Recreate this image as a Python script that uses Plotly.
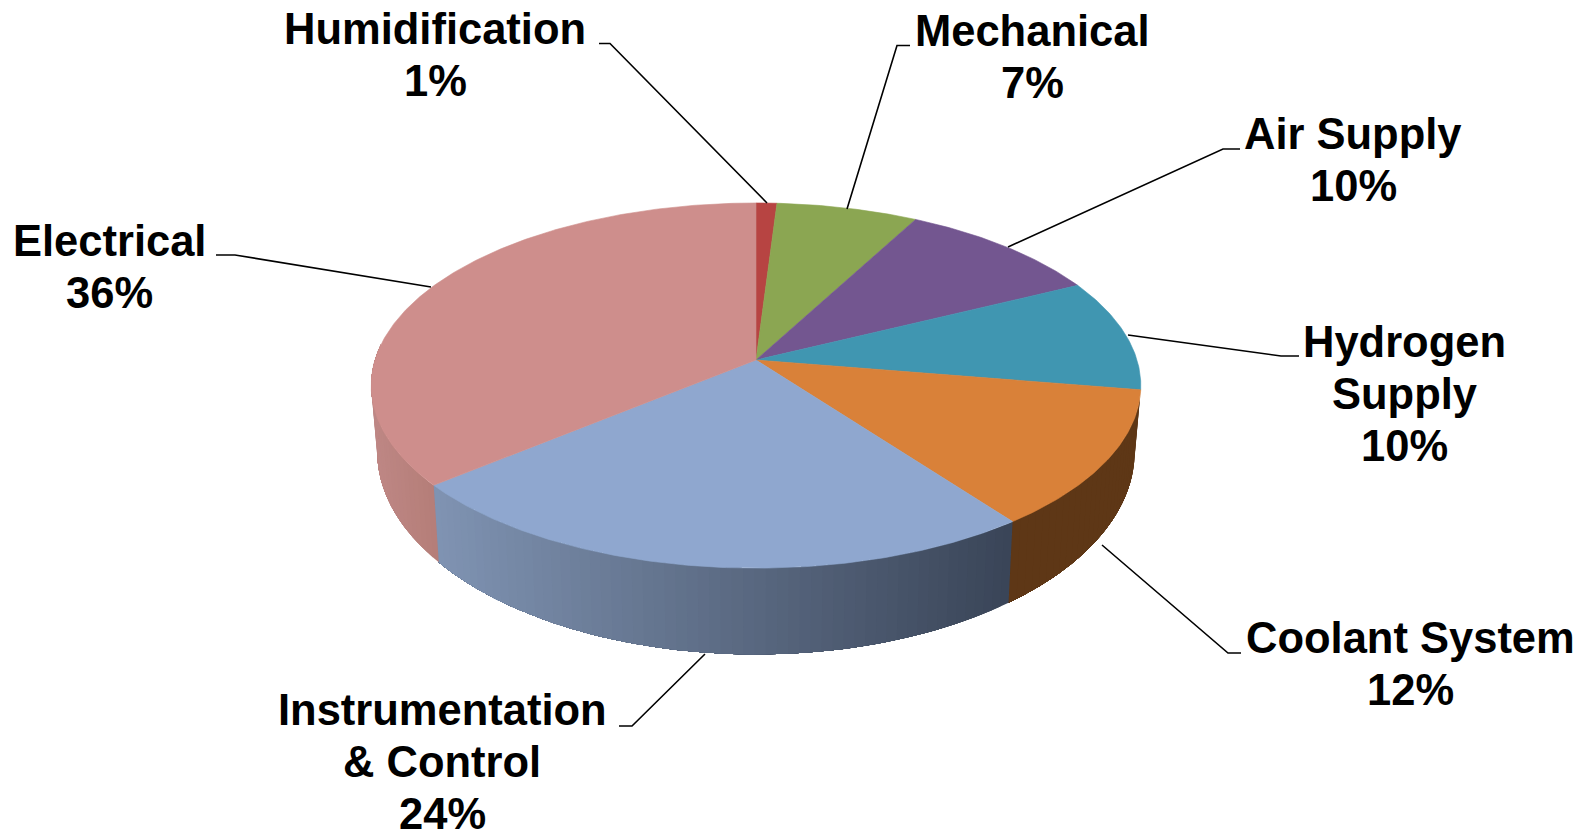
import numpy as np
import plotly.graph_objects as go

# ---- data ----
categories = ["Humidification", "Mechanical", "Air Supply", "Hydrogen Supply",
              "Coolant System", "Instrumentation & Control", "Electrical"]
values = [1, 6.8, 9.9, 9.9, 12.2, 24.2, 36]
label_lines = [["Humidification", "1%"], ["Mechanical", "7%"], ["Air Supply", "10%"],
               ["Hydrogen", "Supply", "10%"], ["Coolant System", "12%"],
               ["Instrumentation", "& Control", "24%"], ["Electrical", "36%"]]

# ---- styles ----
top_colors = ["#B74442", "#8BA652", "#735690", "#4096B1", "#D98139", "#8FA7CF", "#CE8E8C"]
side_left = {4: "#5E3716", 5: "#8094B3", 6: "#BD8683"}
side_right = {4: "#5E3716", 5: "#3A4558", 6: "#B57E79"}

# ---- layout ----
PAGE_INSET = 8                                   # the page's body margin
W, H = 1591, 831
CX, CY, A, B, K = 756, 360, 381, 179, 0.14      # top face projection
CY2, A2, B2 = 423, 375, 199                     # bottom rim projection
LINE_STEP = 52
label_pos = [(435, 55), (1032, 57), (1353, 160), (1404, 394), (1410, 664), (442, 762), (109, 267)]
leaders = [[(599, 43.5), (610, 43.5), (767, 203)],
           [(910, 45.5), (897, 45.5), (847, 209)],
           [(1240, 149), (1223, 149), (1008, 247)],
           [(1299, 356), (1281, 356), (1128, 335)],
           [(1241, 653), (1228, 653), (1102, 545)],
           [(619, 726), (632, 726), (705, 654)],
           [(216, 255), (235, 255), (431, 287)]]


def project(theta, cy=CY, a=A, b=B):
    t = np.radians(theta)
    X, Y = np.sin(t), np.cos(t)
    d = 1 + K * Y
    return CX + a * X / d, cy - b * Y / d


def mix(c1, c2, f):
    p = [int(c1[i:i + 2], 16) for i in (1, 3, 5)]
    q = [int(c2[i:i + 2], 16) for i in (1, 3, 5)]
    return "rgb(%d,%d,%d)" % tuple(round(u + (v - u) * f) for u, v in zip(p, q))


fig = go.Figure()
edges = 360 * np.cumsum([0] + values) / sum(values)

# side wall: each band runs to the end of its slice, so later bands paint over
# earlier ones and no seams show between them
for i in side_left:
    start, end = edges[i], edges[i + 1]
    if i == 6:
        end = 275.0
    steps = np.linspace(start, end, int((end - start) / 1.5) + 2)
    xs0 = project(np.array([start]))[0][0]
    xs1 = project(np.array([end]))[0][0]
    for s0 in steps[:-1]:
        th = np.linspace(s0, end, max(int((end - s0) / 1.5) + 2, 2))
        tx, ty = project(th)
        bx, by = project(th, CY2, A2, B2)
        f = (tx[0] - xs0) / (xs1 - xs0)
        c = mix(side_right[i], side_left[i], f)
        fig.add_trace(go.Scatter(
            x=[*tx, *bx[::-1], tx[0]], y=[*ty, *by[::-1], ty[0]],
            mode="none", fill="toself", fillcolor=c,
            hoverinfo="skip", showlegend=False))

# top face wedges
for i, name in enumerate(categories):
    th = np.linspace(edges[i], edges[i + 1], max(int(values[i] * 6), 4))
    x, y = project(th)
    fig.add_trace(go.Scatter(
        x=[CX, *x, CX], y=[CY, *y, CY], mode="lines", fill="toself",
        fillcolor=top_colors[i], line=dict(color=top_colors[i], width=0.6),
        name=name, text=f"{name}: {values[i]}%", hoverinfo="text", showlegend=False))

# leader lines
for pts in leaders:
    fig.add_trace(go.Scatter(x=[p[0] for p in pts], y=[p[1] for p in pts], mode="lines",
                             line=dict(color="#000000", width=1.6),
                             hoverinfo="skip", showlegend=False))

for lines, (lx, ly) in zip(label_lines, label_pos):
    for n, line in enumerate(lines):
        fig.add_annotation(x=lx, y=ly + (n - (len(lines) - 1) / 2) * LINE_STEP,
                           text=f"<b>{line}</b>", showarrow=False,
                           xanchor="center", yanchor="middle", align="center",
                           font=dict(family="Liberation Sans", size=43.5, color="#000000"))

fig.update_layout(
    width=W - PAGE_INSET, height=H - PAGE_INSET, margin=dict(l=0, r=0, t=0, b=0),
    paper_bgcolor="white", plot_bgcolor="white",
    xaxis=dict(range=[PAGE_INSET, W], visible=False, fixedrange=True),
    yaxis=dict(range=[H, PAGE_INSET], visible=False, fixedrange=True),
)
fig.write_html("out.html", config={"displayModeBar": False})
